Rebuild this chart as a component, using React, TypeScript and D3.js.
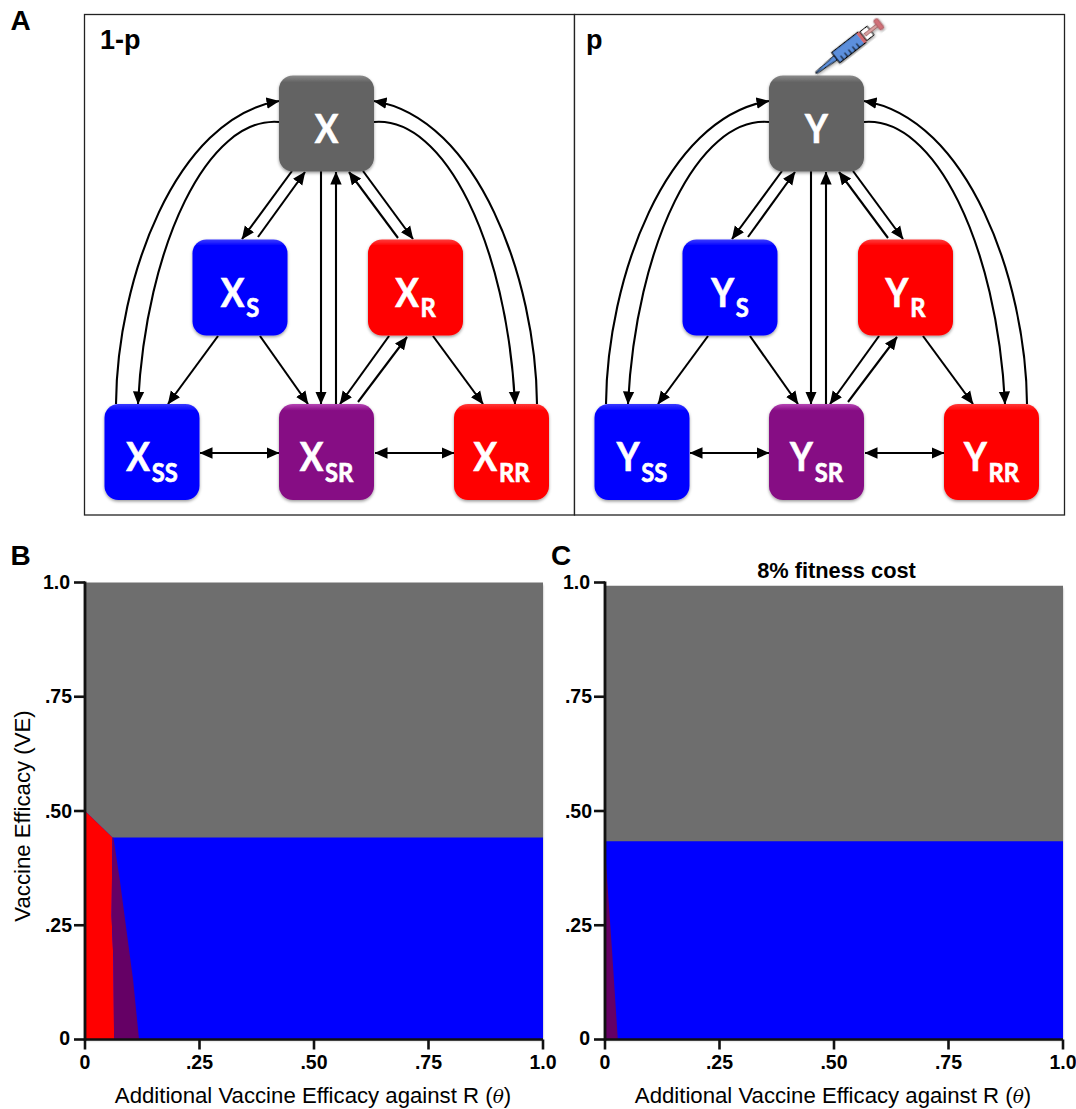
import React from "react";
import * as d3 from "d3";

// ---------- data ----------
const tickValues = [0, 0.25, 0.5, 0.75, 1];
const tickLabels = ["0", ".25", ".50", ".75", "1.0"];

type Pt = [number, number]; // [theta, VE]
const bGrayEdge: Pt[] = [[0, 0.5], [0.06, 0.442], [1, 0.442]];
const bRedRegion: Pt[] = [[0, 0], [0, 0.5], [0.06, 0.442], [0.058, 0.27], [0.062, 0.173], [0.0635, 0]];
const bPurpleRegion: Pt[] = [[0.0635, 0], [0.062, 0.173], [0.058, 0.27], [0.06, 0.442], [0.062, 0.442], [0.076, 0.349], [0.105, 0.13], [0.118, 0]];
const cGrayEdge: Pt[] = [[0, 0.434], [1, 0.434]];
const cPurpleRegion: Pt[] = [[0, 0], [0, 0.42], [0.004, 0.36], [0.015, 0.2], [0.028, 0]];

const panels = [
  { v: "X", head: "1-p" },
  { v: "Y", head: "p" },
];
const compartments = [
  { id: "", sub: "", col: 0, row: 0, fill: "#636363", top: "#8c8c8c" },
  { id: "S", sub: "S", col: -1, row: 1, fill: "#0000ff", top: "#3a3aff" },
  { id: "R", sub: "R", col: 1, row: 1, fill: "#ff0000", top: "#ff3a3a" },
  { id: "SS", sub: "SS", col: -2, row: 2, fill: "#0000ff", top: "#3a3aff" },
  { id: "SR", sub: "SR", col: 0, row: 2, fill: "#860a84", top: "#b544b3" },
  { id: "RR", sub: "RR", col: 2, row: 2, fill: "#ff0000", top: "#ff3a3a" },
];

// straight transitions in diagram px relative to panel: [x1,y1,x2,y2,headStart,headEnd]
const straightLinks: [number, number, number, number, number, number][] = [
  [292, 171, 242, 239, 0, 1],
  [258, 237, 305, 172, 0, 1],
  [398, 238, 349, 172, 0, 1],
  [363, 171, 413, 239, 0, 1],
  [321, 171, 321, 404, 0, 1],
  [336, 404, 336, 172, 0, 1],
  [218, 336, 168, 404, 0, 1],
  [260, 336, 308, 404, 0, 1],
  [389, 336, 340, 404, 0, 1],
  [358, 402, 407, 337, 0, 1],
  [433, 336, 483, 404, 0, 1],
  [200, 453, 279, 453, 1, 1],
  [375, 453, 454, 453, 1, 1],
];
const curvedLinks = [
  "M116,404 C117,280 175,118 279,101",
  "M279,122 C208,116 146,245 138,404",
  "M537,404 C536,280 478,118 374,101",
  "M374,122 C445,116 507,245 515,404",
];

const plotW = 458;
const plotH = 457;
const sans = "'Liberation Sans', Arial, sans-serif";
const nodeFont = "Lato, 'Open Sans', sans-serif";

function Plot({ left, title, grayEdge, regions }: { left: number; title?: string; grayEdge: Pt[]; regions: { pts: Pt[]; fill: string }[] }) {
  const x = d3.scaleLinear().domain([0, 1]).range([left, left + plotW]);
  const y = d3.scaleLinear().domain([0, 1]).range([1039.5, 1039.5 - plotH]);
  const grayTop = title ? 0.993 : 1;
  const gray = d3.area<Pt>().x((d) => x(d[0])).y0(y(grayTop)).y1((d) => y(d[1]))(grayEdge)!;
  const poly = d3.line<Pt>().x((d) => x(d[0])).y((d) => y(d[1]));
  return (
    <g fontFamily={sans}>
      <rect x={x(0)} y={y(grayTop) + 1.5} width={plotW} height={y(0) - y(grayTop) - 1.5} fill="#0000ff" filter="url(#plotShadow)" />
      <path d={gray} fill="#6e6e6e" />
      {regions.map((r, i) => (
        <path key={i} d={poly(r.pts)! + "Z"} fill={r.fill} />
      ))}
      <line x1={x(0)} x2={x(1)} y1={y(0)} y2={y(0)} stroke="#111" strokeWidth={2.6} />
      <line x1={x(0)} x2={x(0)} y1={y(0) + 1} y2={y(1) - 1} stroke="#111" strokeWidth={2.8} />
      {tickValues.map((t, i) => (
        <g key={t}>
          <line x1={x(0) - 11} x2={x(0)} y1={y(t)} y2={y(t)} stroke="#111" strokeWidth={2.6} />
          <text x={x(0) - (t === 0 || t === 1 ? 15 : 13)} y={y(t) + (t === 0 ? 5.5 : 6.5)} textAnchor="end" fontSize={19.5} fontWeight={700}>{tickLabels[i]}</text>
          <line x1={x(t)} x2={x(t)} y1={y(0)} y2={y(0) + 10} stroke="#111" strokeWidth={2.6} />
          <text x={x(t)} y={1068.5} textAnchor="middle" fontSize={19.5} fontWeight={700}>{tickLabels[i]}</text>
        </g>
      ))}
      <text x={left + 228} y={1102.5} textAnchor="middle" fontSize={22.2}>
        Additional Vaccine Efficacy against R (<tspan fontFamily="'DejaVu Serif', serif" fontStyle="italic" fontSize={18.5}>θ</tspan>)
      </text>
      {title && (
        <text x={left + 231.5} y={578} textAnchor="middle" fontSize={21.8} fontWeight={700}>{title}</text>
      )}
    </g>
  );
}

function Syringe() {
  return (
    <g transform="translate(816,73) rotate(-37.9)" filter="url(#soft)">
      <path d="M0,-0.8 L25,-2.6 L25,2.6 L0,0.8 Z" fill="#5b8fdc" stroke="#000" strokeWidth={0.9} />
      <rect x={25} y={-6.5} width={33} height={13} fill="#5b8fdc" stroke="#000" strokeWidth={1.2} />
      {[30, 35, 40, 45, 50].map((m) => (
        <line key={m} x1={m} x2={m} y1={6.5} y2={1.5} stroke="#000" strokeWidth={1} />
      ))}
      <rect x={56} y={-6} width={4} height={12} fill="#d06a70" />
      <rect x={60} y={-5.5} width={9} height={11} fill="#fff" stroke="#000" strokeWidth={1} />
      <rect x={62} y={-1.6} width={16} height={3.2} fill="#d8a0a0" stroke="#8a4a4a" strokeWidth={0.6} />
      <rect x={77} y={-6} width={5} height={12} rx={1.5} fill="#d07078" stroke="#9a5058" strokeWidth={0.7} />
    </g>
  );
}

export default function App() {
  const colX = d3.scaleOrdinal<number, number>().domain([-2, -1, 0, 1, 2]).range([152, 240, 326.5, 415.5, 501.5]);
  const rowY = d3.scaleOrdinal<number, number>().domain([0, 1, 2]).range([123.5, 287.5, 452]);
  return (
    <svg width={1076} height={1109} viewBox="0 0 1076 1109" style={{ position: "absolute", left: 0, top: 0, background: "#fff" }}>
      <defs>
        <marker id="head" viewBox="0 0 13 12" refX={12.5} refY={6} markerWidth={13} markerHeight={12} markerUnits="userSpaceOnUse" orient="auto-start-reverse">
          <path d="M0,0.3 L13,6 L0,11.7 Z" fill="#000" />
        </marker>
        <filter id="soft" x="-15%" y="-15%" width="130%" height="130%">
          <feDropShadow dx={0} dy={1.5} stdDeviation={1.6} floodColor="#000" floodOpacity={0.4} />
        </filter>
        <filter id="plotShadow" x="-3%" y="-3%" width="106%" height="106%">
          <feDropShadow dx={0} dy={1} stdDeviation={1.2} floodColor="#000" floodOpacity={0.35} />
        </filter>
        {compartments.map((c, i) => (
          <linearGradient key={i} id={`g${i}`} x1={0} x2={0} y1={0} y2={1}>
            <stop offset="0" stopColor={c.top} />
            <stop offset="0.07" stopColor={c.fill} />
            <stop offset="1" stopColor={c.fill} />
          </linearGradient>
        ))}
      </defs>

      <g fontFamily={sans} fontWeight={700}>
        <text x={10.5} y={29.5} fontSize={28}>A</text>
        <text x={10.5} y={565} fontSize={28}>B</text>
        <text x={551} y={565} fontSize={28}>C</text>
      </g>

      {panels.map((p, pi) => {
        const dx = pi * 490;
        return (
          <g key={p.v} transform={`translate(${dx},0)`}>
            <rect x={84.5} y={14.5} width={490} height={500.5} fill="#fff" stroke="#222" strokeWidth={1.3} />
            <text x={pi ? 96 : 100} y={49} fontFamily={sans} fontWeight={700} fontSize={27}>{p.head}</text>
            <g fill="none" stroke="#000" strokeWidth={2.1}>
              {straightLinks.map((l, i) => (
                <line key={i} x1={l[0]} y1={l[1]} x2={l[2]} y2={l[3]} markerEnd={l[5] ? "url(#head)" : undefined} markerStart={l[4] ? "url(#head)" : undefined} />
              ))}
              {curvedLinks.map((d, i) => (
                <path key={i} d={d} markerEnd="url(#head)" />
              ))}
            </g>
            {compartments.map((c, i) => {
              const cx = colX(c.col);
              const cy = rowY(c.row);
              return (
                <g key={c.id + i}>
                  <rect x={cx - 47.5} y={cy - 48} width={95} height={96} rx={14} fill={`url(#g${i})`} filter="url(#soft)" />
                  <text transform={`translate(${cx},${cy + 19}) scale(0.88,1)`} textAnchor="middle" fill="#fff" stroke="#fff" strokeWidth={0.7} fontFamily={nodeFont} fontWeight={700} fontSize={40}>
                    {p.v}
                    {c.sub && <tspan fontSize={27} dx={2} dy={10.5}>{c.sub}</tspan>}
                  </text>
                </g>
              );
            })}
          </g>
        );
      })}
      <Syringe />

      <text transform="translate(30,816) rotate(-90)" textAnchor="middle" fontFamily={sans} fontSize={22.2}>Vaccine Efficacy (VE)</text>

      <Plot left={85} grayEdge={bGrayEdge} regions={[{ pts: bRedRegion, fill: "#ff0000" }, { pts: bPurpleRegion, fill: "#650065" }]} />
      <Plot left={605} title="8% fitness cost" grayEdge={cGrayEdge} regions={[{ pts: cPurpleRegion, fill: "#650065" }]} />
    </svg>
  );
}
